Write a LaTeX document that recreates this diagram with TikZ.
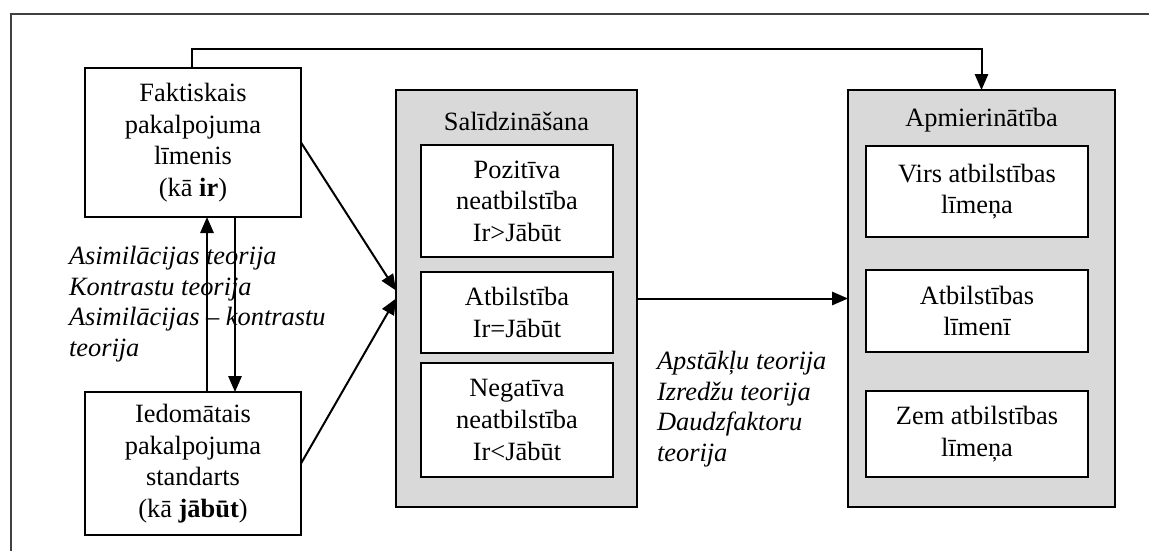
\documentclass[tikz,border=0pt]{standalone}
\usepackage{fontspec}
\setmainfont{Liberation Serif}
\usetikzlibrary{arrows.meta}
\definecolor{panelgray}{HTML}{D9D9D9}
\begin{document}
\begin{tikzpicture}[x=0.75pt,y=-0.75pt,
  every node/.style={inner sep=0pt,outer sep=0pt},
  txt/.style={font=\fontsize{19.8}{23.7}\selectfont,align=center},
  itxt/.style={font=\fontsize{19.8}{23.1}\selectfont\itshape,align=left,anchor=north west},
  whitebox/.style={txt,draw=black,line width=1.5pt,fill=white},
  panel/.style={draw=black,line width=1.5pt,fill=panelgray},
  conn/.style={line width=1.5pt,-{Triangle[length=12pt,width=10pt]}},
  plain/.style={line width=1.5pt}]
  \useasboundingbox (0,0) rectangle (1149,551);
  % open frame (top and left sides)
  \draw[line width=1.5pt,black!75] (1149,14) -- (11,14) -- (11,551);

  % source boxes
  \node[whitebox,minimum width=162pt,minimum height=111.75pt] (fakt) at (193,142.5)
    {Faktiskais\\pakalpojuma\\līmenis\\(kā \textbf{ir})};
  \node[whitebox,minimum width=162pt,minimum height=107.25pt] (ied) at (193,463.5)
    {Iedomātais\\pakalpojuma\\standarts\\(kā \textbf{jābūt})};

  % comparison panel
  \node[panel,minimum width=180.75pt,minimum height=312.75pt] (sal) at (516.5,298.5) {};
  \node[txt] (saltitle) at (516.5,121) {Salīdzināšana};
  \node[whitebox,minimum width=144pt,minimum height=84pt] (poz) at (517,201)
    {Pozitīva\\neatbilstība\\Ir>Jābūt};
  \node[whitebox,minimum width=144pt,minimum height=60.75pt] (atb) at (517,312.5)
    {Atbilstība\\Ir=Jābūt};
  \node[whitebox,minimum width=144pt,minimum height=85.5pt] (neg) at (517,420)
    {Negatīva\\neatbilstība\\Ir<Jābūt};

  % satisfaction panel
  \node[panel,minimum width=200.25pt,minimum height=312.75pt] (apm) at (981.5,298.5) {};
  \node[txt] (apmtitle) at (981.5,120) {Apmierinātība};
  \node[whitebox,minimum width=166.5pt,minimum height=68.25pt] (virs) at (977,191.5)
    {Virs atbilstības\\līmeņa};
  \node[whitebox,minimum width=166.5pt,minimum height=61.5pt] (atbl) at (977,311)
    {Atbilstības\\līmenī};
  \node[whitebox,minimum width=166.5pt,minimum height=64.5pt] (zem) at (977,434)
    {Zem atbilstības\\līmeņa};

  % theory labels
  \node[itxt] (lefttheory) at (69,246)
    {Asimilācijas teorija\\Kontrastu teorija\\Asimilācijas – kontrastu\\teorija};
  \node[itxt] (righttheory) at (657,351)
    {Apstākļu teorija\\Izredžu teorija\\Daudzfaktoru\\teorija};

  % connectors
  \coordinate (topbend1) at (192,49);
  \coordinate (topbend2) at (981.5,49);
  \draw[conn] (fakt.north -| topbend1) -- (topbend1) -- (topbend2) -- (apm.north);
  \draw[conn] (fakt.east) -- ([yshift=6pt]sal.west);
  \draw[conn] (ied.east) -- ([yshift=0pt]sal.west);
  \draw[conn] (ied.north -| 207,0) -- (fakt.south -| 207,0);
  \draw[conn] (fakt.south -| 235,0) -- (ied.north -| 235,0);
  \draw[conn] (sal.east) -- (apm.west);
\end{tikzpicture}
\end{document}
